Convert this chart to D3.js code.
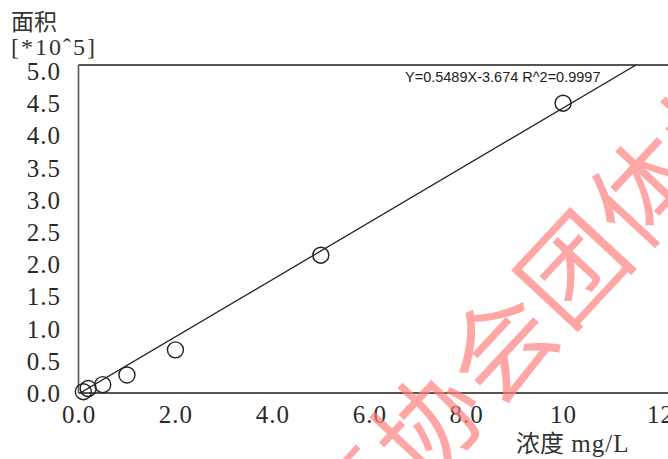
<!DOCTYPE html>
<html>
<head>
<meta charset="utf-8">
<script src="https://cdn.jsdelivr.net/npm/d3@7"></script>
<style>
  html, body { margin: 0; padding: 0; background: #fff; }
  svg { display: block; }
</style>
</head>
<body>
<svg id="chart" width="668" height="459"></svg>
<script>
// ---- data ----
const concentration = [0.1, 0.2, 0.5, 1.0, 2.0, 5.0, 10.0];      // mg/L
const area = [0.02, 0.07, 0.13, 0.28, 0.67, 2.14, 4.50];          // *10^5
const xTickValues = [0, 2, 4, 6, 8, 10, 12];
const xTickLabels = ["0.0", "2.0", "4.0", "6.0", "8.0", "10", "12"];
const yTickValues = [0, 0.5, 1.0, 1.5, 2.0, 2.5, 3.0, 3.5, 4.0, 4.5, 5.0];
const yTickLabels = ["0.0", "0.5", "1.0", "1.5", "2.0", "2.5", "3.0", "3.5", "4.0", "4.5", "5.0"];
const fitSlope = 0.444;
const fitIntercept = -0.015;
const equationText = "Y=0.5489X-3.674 R^2=0.9997";
const yTitle1 = "面积";
const yTitle2 = "[*10ˆ5]";
const xTitleCJK = "浓度";
const xTitleUnit = " mg/L";
const watermarkChars = ["毒", "协", "会", "团", "体", "标"];

// ---- layout ----
const svg = d3.select("#chart");
const plotLeft = 78.5, plotTop = 65, plotBottom = 393;
const x = d3.scaleLinear().domain([0, 12]).range([plotLeft, 660]);
const y = d3.scaleLinear().domain([0, 5.0]).range([plotBottom, 71]);
const yMaxDomain = y.invert(plotTop);
const xMaxDomain = x.invert(720);

const serif = "'Liberation Serif', 'DejaVu Serif', serif";
const cjk = "'Noto Sans CJK SC', 'Noto Sans CJK JP', sans-serif";

// frame (extends past the right edge of the window)
svg.append("line").attr("x1", plotLeft).attr("x2", 720).attr("y1", plotTop).attr("y2", plotTop)
  .attr("stroke", "#555").attr("stroke-width", 2);
svg.append("line").attr("x1", plotLeft).attr("x2", 720).attr("y1", plotBottom).attr("y2", plotBottom)
  .attr("stroke", "#555").attr("stroke-width", 2);
svg.append("line").attr("x1", plotLeft).attr("x2", plotLeft).attr("y1", plotTop).attr("y2", plotBottom)
  .attr("stroke", "#555").attr("stroke-width", 1.6);

// axes (labels only, no tick marks)
const xAxis = d3.axisBottom(x).tickValues(xTickValues)
  .tickFormat((d, i) => xTickLabels[i]).tickSize(0).tickPadding(0);
const gx = svg.append("g").attr("transform", `translate(0,${plotBottom})`).call(xAxis);
gx.select(".domain").remove();
gx.selectAll("text").attr("dy", null).attr("y", 30)
  .attr("font-family", serif).attr("font-size", 25).attr("letter-spacing", 1)
  .attr("fill", "#2a2a2a");

const yAxis = d3.axisLeft(y).tickValues(yTickValues)
  .tickFormat((d, i) => yTickLabels[i]).tickSize(0).tickPadding(0);
const gy = svg.append("g").call(yAxis);
gy.select(".domain").remove();
gy.selectAll("text").attr("x", 61).attr("dy", "0.34em")
  .attr("font-family", serif).attr("font-size", 25).attr("letter-spacing", 1)
  .attr("fill", "#2a2a2a");

// fit line, clipped to the plot box
const clip = svg.append("clipPath").attr("id", "plotclip");
clip.append("rect").attr("x", plotLeft).attr("y", plotTop)
  .attr("width", 720 - plotLeft).attr("height", plotBottom - plotTop);
const xEnd = Math.min(xMaxDomain, (yMaxDomain - fitIntercept) / fitSlope);
const fitPts = [0, xEnd].map(v => [v, fitSlope * v + fitIntercept]);
svg.append("path")
  .attr("clip-path", "url(#plotclip)")
  .attr("d", d3.line().x(d => x(d[0])).y(d => y(d[1]))(fitPts))
  .attr("fill", "none").attr("stroke", "#222").attr("stroke-width", 1.3);

// data points
svg.append("g").selectAll("circle").data(concentration).join("circle")
  .attr("cx", d => x(d)).attr("cy", (d, i) => y(area[i])).attr("r", 8)
  .attr("fill", "none").attr("stroke", "#222").attr("stroke-width", 1.4);

// equation
svg.append("text").attr("x", 405).attr("y", 82)
  .attr("font-family", "'Liberation Sans', Arial, sans-serif").attr("font-size", 14.5)
  .attr("fill", "#222").text(equationText);

// axis titles
svg.append("text").attr("x", 11).attr("y", 30)
  .attr("font-family", cjk).attr("font-size", 23).attr("fill", "#333").text(yTitle1);
svg.append("text").attr("x", 11).attr("y", 55)
  .attr("font-family", serif).attr("font-size", 24).attr("letter-spacing", 2)
  .attr("fill", "#333").text(yTitle2);
const xt = svg.append("text").attr("x", 516).attr("y", 452).attr("fill", "#333");
xt.append("tspan").attr("font-family", cjk).attr("font-size", 24).text(xTitleCJK);
xt.append("tspan").attr("font-family", serif).attr("font-size", 25).attr("letter-spacing", 1).text(xTitleUnit);

// watermark
const wm = svg.append("g").attr("opacity", 0.7);
watermarkChars.forEach((c, i) => {
  const cx = 352 + 72 * i, cy = 498 - 78 * i;
  wm.append("text")
    .attr("transform", `translate(${cx},${cy}) rotate(-47)`)
    .attr("text-anchor", "middle").attr("dominant-baseline", "central")
    .attr("font-family", cjk).attr("font-size", 104).attr("font-weight", 400)
    .attr("fill", "#ff8080").text(c);
});
</script>
</body>
</html>
